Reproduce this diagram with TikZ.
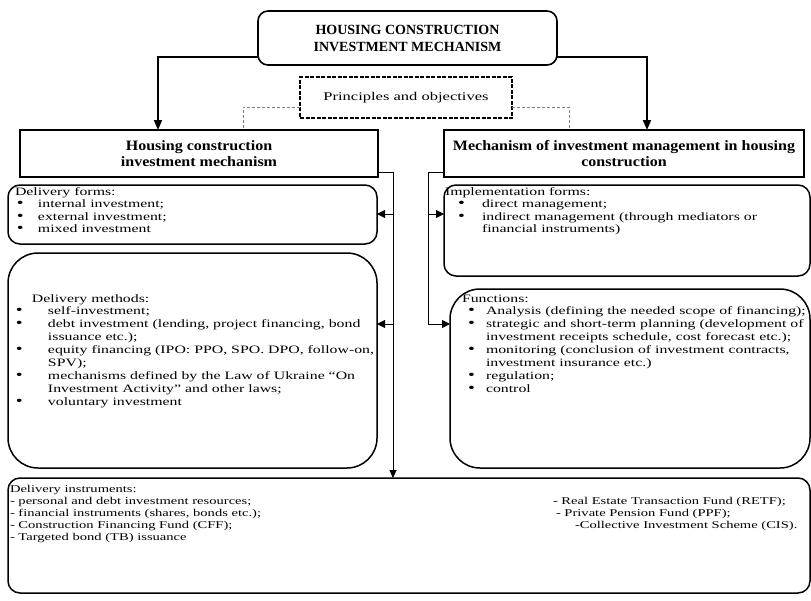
\documentclass[tikz,border=0pt]{standalone}
\usepackage{fontspec}
\setmainfont[FakeStretch=1.4]{Liberation Serif}
\newfontfamily\titlefont{Liberation Serif}
\newfontfamily\headfont[FakeStretch=1.12]{Liberation Serif}
\usetikzlibrary{arrows.meta, positioning}

\newcommand{\itemdot}{{\fontsize{14}{12}\selectfont\textbullet}}

\tikzset{
  plainbox/.style={draw, line width=1.5pt, inner sep=0pt, outer sep=0pt, anchor=north west},
  headbox/.style={plainbox, align=center, font=\headfont\bfseries\fontsize{14.3}{16.5}\selectfont},
  listbox/.style={plainbox, rounded corners=12pt},
  bigbox/.style={plainbox, rounded corners=30pt},
  listtext/.style={inner sep=0pt, outer sep=0pt, anchor=base west},
  bigarrow/.style={line width=1.8pt, -{Triangle[length=10pt, width=8pt]}},
  busline/.style={line width=0.9pt},
  tiparrow/.style={line width=0.9pt, -{Triangle[length=8pt, width=8pt]}},
  linkline/.style={gray, line width=0.6pt, dash pattern=on 3pt off 2pt}
}

\begin{document}
\begin{tikzpicture}[x=1pt, y=-1pt]
    % fixed frame, same size as the reference
    \useasboundingbox (0,0) rectangle (811,600);

    % top level
    \node[plainbox, rounded corners=10pt, line width=1.6pt, minimum width=299pt, minimum height=54pt,
          align=center, font=\titlefont\bfseries\fontsize{14}{17}\selectfont] (title) at (258,11)
          {HOUSING CONSTRUCTION\\INVESTMENT MECHANISM};
    \node[plainbox, line width=1.6pt, dash pattern=on 4pt off 1.5pt, minimum width=212pt, minimum height=41pt,
          font=\fontsize{11.8}{15}\selectfont] (prin) at (300,77) {Principles and objectives};

    % the two branches
    \node[headbox, minimum width=358pt, minimum height=47pt] (lhead) at (20,130)
          {Housing construction\\investment mechanism};
    \node[headbox, minimum width=360pt, minimum height=47pt] (rhead) at (444,130)
          {Mechanism of investment management in housing\\construction};

    % left column
    \node[listbox, minimum width=369pt, minimum height=59pt] (forms) at (8,185) {};
    \node[listtext, font=\fontsize{11.3}{12.5}\selectfont] (formstext) at ([xshift=9pt, yshift=-10pt]forms.north west)
      {\begin{tabular}[t]{@{}p{21pt}@{}l@{}}
        \multicolumn{2}{@{\hspace{-2pt}}l@{}}{Delivery forms:}\\
        \itemdot & internal investment;\\
        \itemdot & external investment;\\
        \itemdot & mixed investment
      \end{tabular}};

    \node[bigbox, minimum width=369pt, minimum height=215pt] (methods) at (8,253) {};
    \node[listtext, font=\fontsize{11.3}{12.9}\selectfont] (methodstext) at ([xshift=8pt, yshift=-49pt]methods.north west)
      {\begin{tabular}[t]{@{}p{32pt}@{}l@{}}
        \multicolumn{2}{@{\hspace{16pt}}l@{}}{Delivery methods:}\\
        \itemdot & self-investment;\\
        \itemdot & debt investment (lending, project financing, bond\\
                 & issuance etc.);\\
        \itemdot & equity financing (IPO: PPO, SPO. DPO, follow-on,\\
                 & SPV);\\
        \itemdot & mechanisms defined by the Law of Ukraine “On\\
                 & Investment Activity” and other laws;\\
        \itemdot & voluntary investment
      \end{tabular}};

    % right column
    \node[listbox, minimum width=366pt, minimum height=91pt] (impl) at (444,185) {};
    \node[listtext, font=\fontsize{11.3}{12.5}\selectfont] (impltext) at ([xshift=14pt, yshift=-10pt]impl.north west)
      {\begin{tabular}[t]{@{}p{24pt}@{}l@{}}
        \multicolumn{2}{@{\hspace{-13pt}}l@{}}{Implementation forms:}\\
        \itemdot & direct management;\\
        \itemdot & indirect management (through mediators or\\
                 & financial instruments)
      \end{tabular}};

    \node[bigbox, minimum width=360pt, minimum height=179pt] (func) at (450,289) {};
    \node[listtext, font=\fontsize{11.3}{12.9}\selectfont] (functext) at ([xshift=18pt, yshift=-13pt]func.north west)
      {\begin{tabular}[t]{@{}p{18pt}@{}l@{}}
        \multicolumn{2}{@{\hspace{-6pt}}l@{}}{Functions:}\\
        \itemdot & Analysis (defining the needed scope of financing);\\
        \itemdot & strategic and short-term planning (development of\\
                 & investment receipts schedule, cost forecast etc.);\\
        \itemdot & monitoring (conclusion of investment contracts,\\
                 & investment insurance etc.)\\
        \itemdot & regulation;\\
        \itemdot & control
      \end{tabular}};

    % bottom
    \node[listbox, minimum width=802pt, minimum height=115pt] (instr) at (8,478) {};
    \node[listtext, font=\fontsize{10.4}{12.2}\selectfont] (instrleft) at ([xshift=2pt, yshift=-14pt]instr.north west)
      {\begin{tabular}[t]{@{}l@{}}
        Delivery instruments:\\
        - personal and debt investment resources;\\
        - financial instruments (shares, bonds etc.);\\
        - Construction Financing Fund (CFF);\\
        - Targeted bond (TB) issuance
      \end{tabular}};
    \node[listtext, font=\fontsize{10.4}{12.2}\selectfont] (instrright) at ([xshift=545pt, yshift=-26.2pt]instr.north west)
      {\begin{tabular}[t]{@{}l@{}}
        - Real Estate Transaction Fund (RETF);\\
        \hspace*{3pt}- Private Pension Fund (PPF);\\
        \hspace*{22pt}-Collective Investment Scheme (CIS).
      \end{tabular}};

    % connectors
    \coordinate (ldrop) at (158,57);
    \coordinate (rdrop) at (647,57);
    \draw[bigarrow] ([yshift=8pt]title.south west) -- (ldrop) -- (ldrop |- lhead.north);
    \draw[bigarrow] ([yshift=8pt]title.south east) -- (rdrop) -- (rdrop |- rhead.north);

    \coordinate (plink) at (243,107);
    \coordinate (qlink) at (569,107);
    \draw[linkline] (prin.west |- plink) -- (plink) -- (plink |- lhead.north);
    \draw[linkline] (prin.east |- qlink) -- (qlink) -- (qlink |- rhead.north);

    \coordinate (lbus) at (393,172);
    \coordinate (lf) at (393,214);
    \coordinate (lm) at (393,324);
    \draw[busline, -{Triangle[length=8pt, width=7pt]}] (lhead.east |- lbus) -- (lbus) -- (lbus |- instr.north);
    \draw[tiparrow] (lf) -- (lf -| forms.east);
    \draw[tiparrow] (lm) -- (lm -| methods.east);

    \coordinate (rbus) at (428,172);
    \coordinate (ri) at (428,214);
    \coordinate (rf) at (428,324);
    \draw[busline] (rhead.west |- rbus) -- (rbus) -- (rf);
    \draw[tiparrow] (ri) -- (ri -| impl.west);
    \draw[tiparrow] (rf) -- (rf -| func.west);
\end{tikzpicture}
\end{document}
